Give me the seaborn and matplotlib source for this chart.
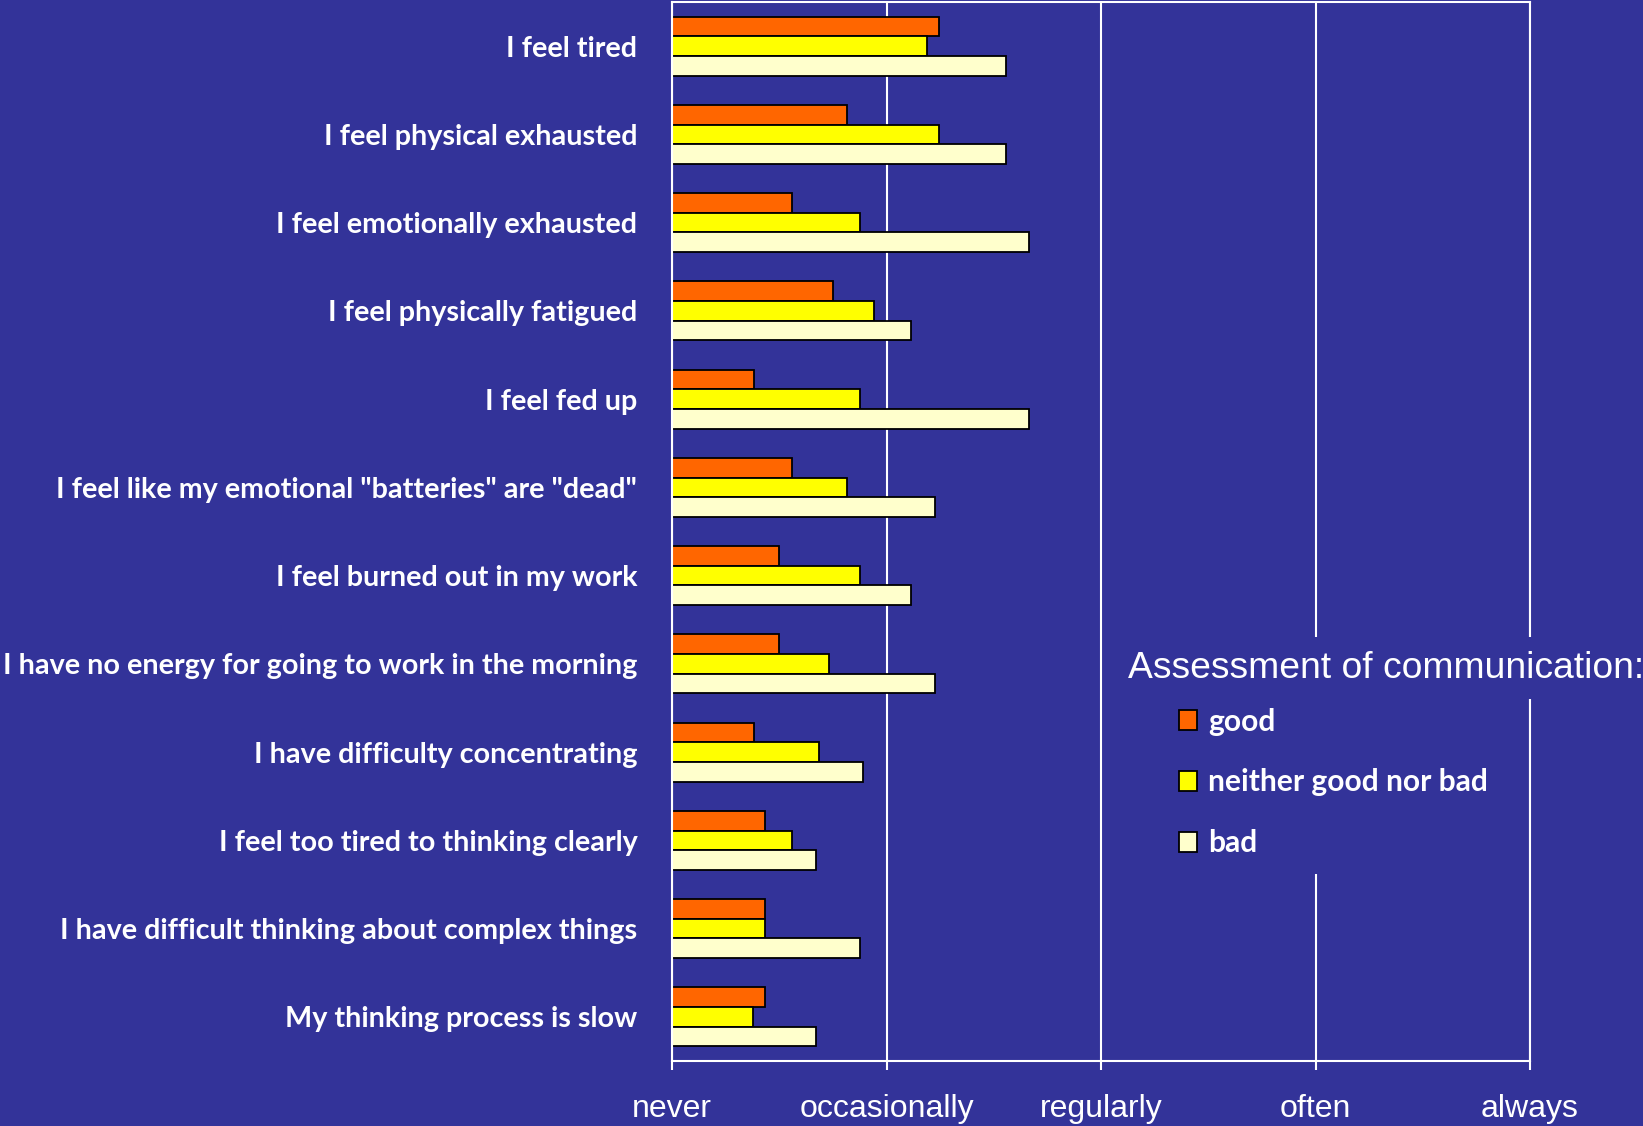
import matplotlib
matplotlib.use("Agg")
import matplotlib.pyplot as plt
from matplotlib.patches import Patch
import pandas as pd
import seaborn as sns

# Burnout items and mean frequency score (0 = never ... 4 = always)
items = [
    "I feel tired",
    "I feel physical exhausted",
    "I feel emotionally exhausted",
    "I feel physically fatigued",
    "I feel fed up",
    'I feel like my emotional "batteries" are "dead"',
    "I feel burned out in my work",
    "I have no energy for going to work in the morning",
    "I have difficulty concentrating",
    "I feel too tired to thinking clearly",
    "I have difficult thinking about complex things",
    "My thinking process is slow",
]
groups = ["good", "neither good nor bad", "bad"]
good = [1.245, 0.816, 0.56, 0.75, 0.38, 0.56, 0.50, 0.50, 0.38, 0.434, 0.434, 0.434]
neither = [1.19, 1.245, 0.876, 0.94, 0.876, 0.815, 0.876, 0.733, 0.686, 0.56, 0.434, 0.378]
bad = [1.557, 1.557, 1.664, 1.115, 1.665, 1.226, 1.115, 1.226, 0.891, 0.671, 0.876, 0.671]
scale_labels = ["never", "occasionally", "regularly", "often", "always"]

BG = "#333399"
colors = ["#FF6600", "#FFFF00", "#FFFFCC"]

df = pd.DataFrame({
    "item": items * 3,
    "group": [g for g in groups for _ in items],
    "value": good + neither + bad,
})

sns.set_theme(style="white")
plt.rcParams["font.family"] = ["Liberation Sans", "DejaVu Sans"]

fig = plt.figure(figsize=(16.43, 11.26), dpi=100, facecolor=BG)
ax = fig.add_axes([672 / 1643, 1 - 1061 / 1126, (1530 - 672) / 1643, (1061 - 2) / 1126])
ax.set_facecolor(BG)

sns.barplot(
    data=df, y="item", x="value", hue="group", order=items, hue_order=groups,
    palette=colors, orient="h", width=0.67, edgecolor="black", linewidth=1.3,
    saturation=1, ax=ax, legend=False,
)

ax.set_xlim(0, 4)
ax.set_ylim(11.5, -0.5)
ax.set_xlabel("")
ax.set_ylabel("")

ax.set_axisbelow(True)
ax.xaxis.grid(True, color="white", linewidth=1.5)
ax.yaxis.grid(False)
for side in ["top", "left", "bottom", "right"]:
    ax.spines[side].set_color("white")
    ax.spines[side].set_linewidth(1.5)

ax.set_xticks(range(5))
ax.set_xticklabels(scale_labels)
ax.tick_params(axis="x", colors="white", direction="out", length=6.5, width=1.5,
               pad=17, labelsize=23, bottom=True)
ax.tick_params(axis="y", length=0, pad=25, labelcolor="white")
for lab in ax.get_yticklabels():
    lab.set_fontfamily(["Lato", "DejaVu Sans"])
    lab.set_fontweight("bold")
    lab.set_fontsize(20.7)

# Legend: title and entries on separate background boxes
fig.text(1128 / 1643, 1 - 668 / 1126, "Assessment of communication:", color="white",
         fontsize=26.8, ha="left", va="center",
         bbox=dict(facecolor=BG, edgecolor="none", pad=10))

handles = [Patch(facecolor=c, edgecolor="black", linewidth=1.3) for c in colors]
leg = ax.legend(
    handles, groups, loc="upper left",
    bbox_to_anchor=(1162 / 1643, 1 - 691 / 1126), bbox_transform=fig.transFigure,
    frameon=True, facecolor=BG, edgecolor="none", framealpha=1, fancybox=False,
    handlelength=0.63, handleheight=0.63, handletextpad=0.35, labelspacing=1.1,
    borderpad=0.55, borderaxespad=0,
    prop={"family": ["Lato", "DejaVu Sans"], "weight": "bold", "size": 21.6},
)
for t in leg.get_texts():
    t.set_color("white")

fig.savefig("out.png", dpi=100, facecolor=BG)
